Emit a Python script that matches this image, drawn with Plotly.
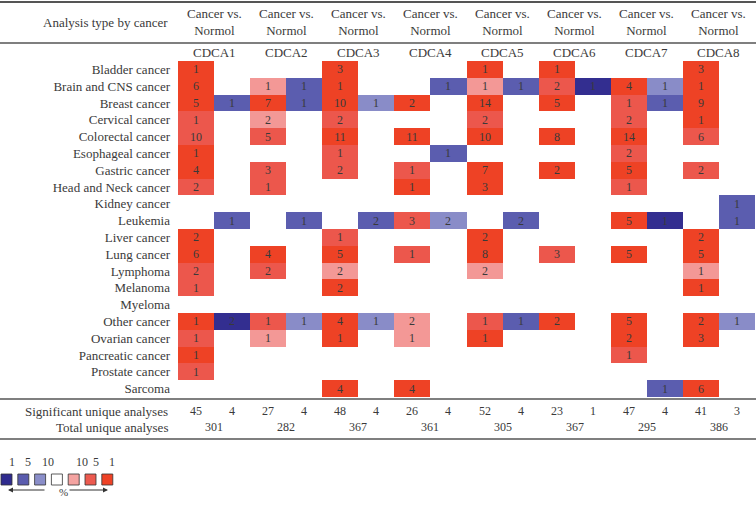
import plotly.graph_objects as go

W, H = 756, 508

genes = ["CDCA1", "CDCA2", "CDCA3", "CDCA4", "CDCA5", "CDCA6", "CDCA7", "CDCA8"]

cancers = [
    "Bladder cancer", "Brain and CNS cancer", "Breast cancer", "Cervical cancer",
    "Colorectal cancer", "Esophageal cancer", "Gastric cancer", "Head and Neck cancer",
    "Kidney cancer", "Leukemia", "Liver cancer", "Lung cancer", "Lymphoma",
    "Melanoma", "Myeloma", "Other cancer", "Ovarian cancer", "Pancreatic cancer",
    "Prostate cancer", "Sarcoma",
]

# each cell: count + rank code (B/b/l = blue 1/5/10 %, p/r/R = red 10/5/1 %), "." = none
# columns go gene by gene: up (red), down (blue)
cells = [
    ["1R", ".", ".", ".", "3R", ".", ".", ".", "1R", ".", "1R", ".", ".", ".", "3R", "."],
    ["6R", ".", "1p", "1b", "1R", ".", ".", "1b", "1p", "1b", "2r", "1B", "4R", "1l", "1R", "."],
    ["5R", "1b", "7R", "1b", "10R", "1l", "2R", ".", "14R", ".", "5R", ".", "1r", "1b", "9R", "."],
    ["1r", ".", "2p", ".", "2r", ".", ".", ".", "2r", ".", ".", ".", "2r", ".", "1R", "."],
    ["10r", ".", "5r", ".", "11R", ".", "11R", ".", "10R", ".", "8R", ".", "14R", ".", "6r", "."],
    ["1R", ".", ".", ".", "1r", ".", ".", "1b", ".", ".", ".", ".", "2r", ".", ".", "."],
    ["4R", ".", "3r", ".", "2r", ".", "1r", ".", "7R", ".", "2R", ".", "5R", ".", "2r", "."],
    ["2r", ".", "1r", ".", ".", ".", "1R", ".", "3R", ".", ".", ".", "1r", ".", ".", "."],
    [".", ".", ".", ".", ".", ".", ".", ".", ".", ".", ".", ".", ".", ".", ".", "1b"],
    [".", "1b", ".", "1b", ".", "2b", "3r", "2l", ".", "2b", ".", ".", "5R", "1B", ".", "1b"],
    ["2R", ".", ".", ".", "1r", ".", ".", ".", "2R", ".", ".", ".", ".", ".", "2R", "."],
    ["6R", ".", "4R", ".", "5R", ".", "1r", ".", "8R", ".", "3r", ".", "5R", ".", "5R", "."],
    ["2r", ".", "2r", ".", "2p", ".", ".", ".", "2p", ".", ".", ".", ".", ".", "1p", "."],
    ["1r", ".", ".", ".", "2R", ".", ".", ".", ".", ".", ".", ".", ".", ".", "1R", "."],
    [".", ".", ".", ".", ".", ".", ".", ".", ".", ".", ".", ".", ".", ".", ".", "."],
    ["1R", "2B", "1r", "1l", "4R", "1l", "2p", ".", "1r", "1b", "2R", ".", "5R", ".", "2R", "1l"],
    ["1r", ".", "1p", ".", "1R", ".", "1p", ".", "1R", ".", ".", ".", "2R", ".", "3R", "."],
    ["1R", ".", ".", ".", ".", ".", ".", ".", ".", ".", ".", ".", "1r", ".", ".", "."],
    ["1r", ".", ".", ".", ".", ".", ".", ".", ".", ".", ".", ".", ".", ".", ".", "."],
    [".", ".", ".", ".", "4R", ".", "4R", ".", ".", ".", ".", ".", ".", "1b", "6R", "."],
]

significant = [45, 4, 27, 4, 48, 4, 26, 4, 52, 4, 23, 1, 47, 4, 41, 3]
total = [301, 282, 367, 361, 305, 367, 295, 386]

legend_labels = ["1", "5", "10", "", "10", "5", "1"]
legend_colors = ["#2f2b8e", "#5a5cae", "#8a8ec9", "#ffffff", "#f4a3a1", "#ec5a4f", "#ee4226"]

code_idx = {c: i for i, c in enumerate("BblprR")}
cell_colors = ["#332e90", "#5b5daf", "#898cc8", "#f39896", "#ec574c", "#ee4225"]

z, txt = [], []
for row in cells:
    zr, tr = [], []
    for c in row:
        if c == ".":
            zr.append(None)
            tr.append("")
        else:
            zr.append(code_idx[c[-1]])
            tr.append(c[:-1])
    z.append(zr)
    txt.append(tr)

n = len(cell_colors)
cscale = []
for i, col in enumerate(cell_colors):
    cscale.append([i / n, col])
    cscale.append([(i + 1) / n, col])

FONT = "Liberation Serif"
INK = "#3a3a3a"

x0, x1 = 178 / W, 755 / W


def py(p):
    return 1 - p / H


fig = go.Figure(go.Heatmap(
    z=z,
    x=list(range(16)),
    y=cancers,
    text=txt,
    texttemplate="%{text}",
    textfont=dict(family=FONT, size=12, color=INK),
    colorscale=cscale,
    zmin=-0.5,
    zmax=n - 0.5,
    showscale=False,
    hoverinfo="skip",
))

fig.update_layout(
    width=W, height=H,
    margin=dict(l=0, r=0, t=0, b=0),
    paper_bgcolor="white", plot_bgcolor="white",
    font=dict(family=FONT, size=13, color=INK),
    xaxis=dict(domain=[x0, x1], range=[-0.5, 15.5], visible=False, fixedrange=True,
               automargin=False),
    yaxis=dict(domain=[py(397), py(61)], autorange="reversed", showgrid=False,
               zeroline=False, ticks="", ticklabelstandoff=7, automargin=False,
               tickfont=dict(family=FONT, size=13, color=INK)),
)

ann = []
ann.append(dict(x=170 / W, y=py(22), xref="paper", yref="paper", xanchor="right",
                yanchor="middle", text="Analysis type by cancer", showarrow=False,
                font=dict(size=13)))
for g, name in enumerate(genes):
    xc = 2 * g + 0.5
    ann.append(dict(x=xc, y=py(22), xref="x", yref="paper", text="Cancer vs.<br>Normol",
                    showarrow=False, yanchor="middle", font=dict(size=13)))
    ann.append(dict(x=xc, y=py(52), xref="x", yref="paper", text=name,
                    showarrow=False, yanchor="middle", font=dict(size=13)))
    ann.append(dict(x=xc, y=py(427), xref="x", yref="paper", text=str(total[g]),
                    showarrow=False, yanchor="middle", font=dict(size=12)))
for i, v in enumerate(significant):
    ann.append(dict(x=i, y=py(411), xref="x", yref="paper", text=str(v),
                    showarrow=False, yanchor="middle", font=dict(size=12)))
ann.append(dict(x=170 / W, y=py(411), xref="paper", yref="paper", xanchor="right",
                yanchor="middle", text="Significant unique analyses", showarrow=False))
ann.append(dict(x=170 / W, y=py(427), xref="paper", yref="paper", xanchor="right",
                yanchor="middle", text="Total unique analyses", showarrow=False))

shapes = []
for yy, wd in [(2, 2), (43, 1.5), (399, 1.5), (439, 1.5)]:
    shapes.append(dict(type="line", xref="paper", yref="paper", x0=0, x1=1,
                       y0=py(yy), y1=py(yy), line=dict(color="#555555", width=wd)))

# colour key bottom-left
for i, (lab, col) in enumerate(zip(legend_labels, legend_colors)):
    lx = 1 + i * 16.8
    shapes.append(dict(type="rect", xref="paper", yref="paper",
                       x0=lx / W, x1=(lx + 11) / W, y0=py(485), y1=py(474),
                       fillcolor=col, line=dict(color="#333333", width=0.8)))
    if lab:
        ann.append(dict(x=(lx + 5.5) / W, y=py(462), xref="paper", yref="paper",
                        text=lab, showarrow=False, yanchor="middle",
                        font=dict(size=12)))
ann.append(dict(x=57 / W, y=py(492), xref="paper", yref="paper", text="%",
                showarrow=False, yanchor="middle", font=dict(size=11)))
for xs, xe in [(46, 8), (68, 108)]:
    ann.append(dict(x=xe / W, y=py(490), xref="paper", yref="paper",
                    ax=xs - xe, ay=0, axref="pixel", ayref="pixel", text="",
                    showarrow=True, arrowhead=2, arrowsize=1, arrowwidth=1,
                    arrowcolor="#333333"))

fig.update_layout(annotations=ann, shapes=shapes)

fig.write_html("out.html", config={"displayModeBar": False},
               post_script="document.body.style.margin='0';")
